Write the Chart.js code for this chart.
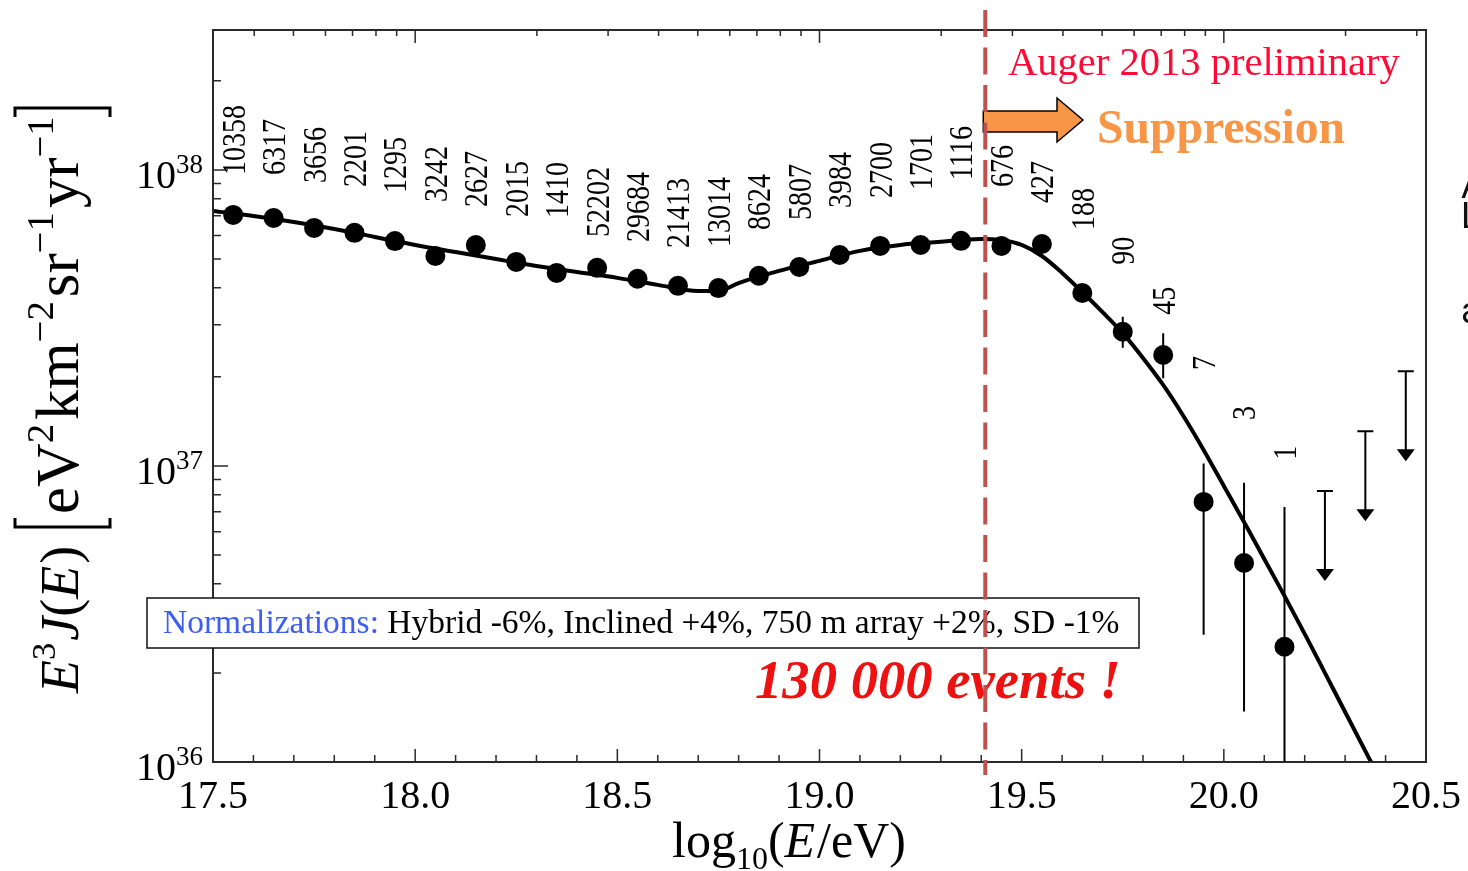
<!DOCTYPE html>
<html>
<head>
<meta charset="utf-8">
<script src="https://cdn.jsdelivr.net/npm/chart.js@4.4.1/dist/chart.umd.min.js"></script>
<style>
  html, body { margin: 0; background: #fff; }
  #wrap { width: 1468px; height: 871px; position: relative; }
</style>
</head>
<body>
<div id="wrap"><canvas id="spectrum"></canvas></div>
<script>
// Auger 2013 combined spectrum, E^3 J(E) vs log10(E/eV)

// measured points
const logE = [17.55, 17.65, 17.75, 17.85, 17.95, 18.05, 18.15, 18.25, 18.35, 18.45,
              18.55, 18.65, 18.75, 18.85, 18.95, 19.05, 19.15, 19.25, 19.35, 19.45,
              19.55, 19.65, 19.75, 19.85, 19.95, 20.05, 20.15];
const flux = [7.05e37, 6.88e37, 6.37e37, 6.13e37, 5.75e37, 5.12e37, 5.58e37, 4.89e37, 4.49e37, 4.67e37,
              4.29e37, 4.06e37, 3.99e37, 4.39e37, 4.70e37, 5.16e37, 5.54e37, 5.58e37, 5.76e37, 5.54e37,
              5.62e37, 3.84e37, 2.84e37, 2.37e37, 7.56e36, 4.70e36, 2.45e36];
const errHi = [null, null, null, null, null, null, null, null, null, null,
               null, null, null, null, null, null, null, null, null, null,
               null, null, 3.19e37, 2.81e37, 1.02e37, 8.77e36, 7.27e36];
const errLo = [null, null, null, null, null, null, null, null, null, null,
               null, null, null, null, null, null, null, null, null, null,
               null, null, 2.51e37, 1.98e37, 2.69e36, 1.48e36, 1.0e36];
const counts = ['10358', '6317', '3656', '2201', '1295', '3242', '2627', '2015', '1410', '52202',
                '29684', '21413', '13014', '8624', '5807', '3984', '2700', '1701', '1116', '676',
                '427', '188', '90', '45', '7', '3', '1'];
// where each event count sits (bottom end of the rotated number)
const countAnchor = [9.62e37, 9.62e37, 9.04e37, 8.76e37, 8.36e37, 7.79e37, 7.50e37, 6.94e37, 6.88e37, 5.94e37,
                     5.71e37, 5.45e37, 5.49e37, 6.27e37, 6.78e37, 7.44e37, 8.04e37, 8.56e37, 9.25e37, 8.76e37,
                     7.73e37, 6.27e37, 4.78e37, 3.24e37, 2.11e37, 1.43e37, 1.05e37];

// upper limits (84% CL)
const ulE = [20.25, 20.35, 20.45];
const ulFlux = [8.23e36, 1.31e37, 2.09e37];

// fitted broken power law with smooth suppression
const fitE = [17.5, 17.6, 17.7, 17.8, 17.9, 18.0, 18.1, 18.2, 18.3, 18.4, 18.5, 18.6, 18.7, 18.75,
              18.8, 18.9, 19.0, 19.1, 19.2, 19.3, 19.35, 19.4, 19.45, 19.5, 19.55, 19.6, 19.65, 19.7,
              19.75, 19.8, 19.85, 19.9, 19.95, 20.0, 20.05, 20.1, 20.15, 20.2, 20.25, 20.3, 20.364];
const fitFlux = [7.27e37, 6.99e37, 6.67e37, 6.32e37, 5.94e37, 5.58e37, 5.28e37, 5.00e37, 4.74e37, 4.52e37,
                 4.32e37, 4.09e37, 3.90e37, 3.90e37, 4.15e37, 4.56e37, 4.93e37, 5.33e37, 5.58e37, 5.72e37,
                 5.80e37, 5.85e37, 5.80e37, 5.58e37, 5.12e37, 4.49e37, 3.87e37, 3.31e37,
                 2.81e37, 2.317e37, 1.878e37, 1.475e37, 1.133e37, 8.56e36, 6.47e36, 4.85e36, 3.64e36,
                 2.71e36, 2.00e36, 1.475e36, 1.0e36];

// axes
const xTicks = [17.5, 18.0, 18.5, 19.0, 19.5, 20.0, 20.5];
const xTickLabels = ['17.5', '18.0', '18.5', '19.0', '19.5', '20.0', '20.5'];
const yTicks = [1e36, 1e37, 1e38];
const yTickExp = ['36', '37', '38'];
const topEeV = [0.4, 0.5, 0.6, 0.7, 0.8, 0.9, 1, 2, 3, 4, 5, 6, 7, 8, 9,
                10, 20, 30, 40, 50, 60, 70, 80, 90, 100, 200, 300];
const suppressionStart = 19.41;

const SERIF = '"Liberation Serif", "Times New Roman", serif';
const font = (size, it, b) => `${it ? 'italic ' : ''}${b ? 'bold ' : ''}${size}px ${SERIF}`;

function drawRuns(ctx, runs, x, y, size) {
  runs.forEach(r => {
    const s = (r.sup || r.sub) ? size * 0.64 : size;
    ctx.font = font(s, r.it, r.b);
    ctx.fillStyle = r.color || '#000';
    const dy = r.sup ? -size * 0.42 : (r.sub ? size * 0.24 : 0);
    x += r.pre || 0;
    ctx.fillText(r.t, x, y + dy);
    x += ctx.measureText(r.t).width + (r.gap || 0);
  });
  return x;
}

function runsWidth(ctx, runs, size) {
  let w = 0;
  runs.forEach(r => {
    const s = (r.sup || r.sub) ? size * 0.64 : size;
    ctx.font = font(s, r.it, r.b);
    w += (r.pre || 0) + ctx.measureText(r.t).width + (r.gap || 0);
  });
  return w;
}

// scale a run list so it spans the given width
function fitSize(ctx, runs, width) {
  return 100 * width / runsWidth(ctx, runs, 100);
}

const decorations = {
  id: 'decorations',
  afterDatasetsDraw(chart) {
    const ctx = chart.ctx;
    const a = chart.chartArea;
    const xs = chart.scales.x, ys = chart.scales.y;
    const X = v => xs.getPixelForValue(v);
    const Y = v => ys.getPixelForValue(v);
    ctx.save();

    // frame
    ctx.strokeStyle = '#2a2a2a';
    ctx.lineWidth = 2;
    ctx.strokeRect(a.left, a.top, a.right - a.left, a.bottom - a.top);

    // bottom ticks every 0.1, long every 0.5
    ctx.lineWidth = 1.5;
    ctx.beginPath();
    for (let k = 175; k <= 205; k++) {
      const px = X(k / 10);
      const len = k % 5 === 0 ? 13 : 7;
      ctx.moveTo(px, a.bottom);
      ctx.lineTo(px, a.bottom - len);
    }
    // top ticks: energy in EeV
    topEeV.forEach(e => {
      const px = X(18 + Math.log10(e));
      const len = [1, 10, 100].includes(e) ? 13 : 6;
      ctx.moveTo(px, a.top);
      ctx.lineTo(px, a.top + len);
    });
    // left ticks: decades and 2..9
    [36, 37, 38].forEach(d => {
      for (let m = 1; m <= 9; m++) {
        const v = m * Math.pow(10, d);
        if (v > ys.max) break;
        const py = Y(v);
        ctx.moveTo(a.left, py);
        ctx.lineTo(a.left + (m === 1 ? 15 : 8), py);
      }
    });
    ctx.stroke();

    // tick labels
    ctx.fillStyle = '#000';
    ctx.textBaseline = 'alphabetic';
    ctx.textAlign = 'center';
    ctx.font = font(40);
    xTicks.forEach((v, i) => ctx.fillText(xTickLabels[i], X(v), 808));
    ctx.textAlign = 'left';
    yTicks.forEach((v, i) => {
      const py = Y(v);
      ctx.font = font(40);
      const w10 = ctx.measureText('10').width;
      ctx.font = font(27);
      const wE = ctx.measureText(yTickExp[i]).width;
      const x0 = 203 - w10 - wE;
      ctx.font = font(40);
      ctx.fillText('10', x0, py + 18);
      ctx.font = font(27);
      ctx.fillText(yTickExp[i], x0 + w10, py + 3);
    });

    // x title
    drawRuns(ctx, [
      { t: 'log' }, { t: '10', sub: true }, { t: '(' }, { t: 'E', it: true, gap: 2 }, { t: '/eV)' }
    ], 672, 857, 50);

    // y title, rotated
    ctx.save();
    ctx.translate(78, 693);
    ctx.rotate(-Math.PI / 2);
    drawRuns(ctx, [
      { t: 'E', it: true }, { t: '3', sup: true, gap: 2 }, { t: 'J', it: true }, { t: '(' },
      { t: 'E', it: true, gap: 2 }, { t: ')' }
    ], 0, 0, 54);
    const inner = [
      { t: 'eV' }, { t: '2', sup: true, gap: 4 }, { t: 'km' }, { t: '\u22122', sup: true, gap: 4 },
      { t: 'sr' }, { t: '\u22121', sup: true, gap: 4 }, { t: 'yr' }, { t: '\u22121', sup: true }
    ];
    const bL = 166, bR = 585;
    const innerSize = fitSize(ctx, inner, bR - bL - 26);
    drawRuns(ctx, inner, bL + 13, 0, innerSize);
    ctx.lineWidth = 3;
    ctx.strokeStyle = '#000';
    ctx.beginPath();
    ctx.moveTo(bL + 9, -63); ctx.lineTo(bL, -63); ctx.lineTo(bL, 32); ctx.lineTo(bL + 9, 32);
    ctx.moveTo(bR - 9, -63); ctx.lineTo(bR, -63); ctx.lineTo(bR, 32); ctx.lineTo(bR - 9, 32);
    ctx.stroke();
    ctx.restore();

    // error bars
    ctx.strokeStyle = '#000';
    ctx.lineWidth = 2;
    ctx.beginPath();
    logE.forEach((e, i) => {
      if (errHi[i] == null) return;
      ctx.moveTo(X(e), Y(errHi[i]));
      ctx.lineTo(X(e), Y(errLo[i]));
    });
    ctx.stroke();

    // upper limits
    ulE.forEach((e, i) => {
      const px = X(e), top = Y(ulFlux[i]), tip = top + 90;
      ctx.beginPath();
      ctx.moveTo(px - 8, top); ctx.lineTo(px + 8, top);
      ctx.moveTo(px, top); ctx.lineTo(px, tip - 8);
      ctx.stroke();
      ctx.beginPath();
      ctx.moveTo(px - 9, tip - 12); ctx.lineTo(px + 9, tip - 12); ctx.lineTo(px, tip);
      ctx.closePath();
      ctx.fillStyle = '#000';
      ctx.fill();
    });

    // event counts (slightly tall glyphs, like the original)
    ctx.font = font(28);
    ctx.fillStyle = '#000';
    ctx.textAlign = 'left';
    counts.forEach((c, i) => {
      ctx.save();
      ctx.translate(X(logE[i]) + 2, Y(countAnchor[i]));
      ctx.rotate(-Math.PI / 2);
      ctx.scale(1, 1.18);
      ctx.fillText(c, 0, 8);
      ctx.restore();
    });

    // normalization box
    ctx.fillStyle = '#fff';
    ctx.fillRect(147, 598, 992, 50);
    ctx.strokeStyle = '#111';
    ctx.lineWidth = 1.5;
    ctx.strokeRect(147, 598, 992, 50);
    const norm = [
      { t: 'Normalizations: ', color: '#3d5ef5' },
      { t: 'Hybrid -6%, Inclined +4%, 750 m array +2%, SD -1%' }
    ];
    drawRuns(ctx, norm, 163, 633, fitSize(ctx, norm, 957));

    // event total
    const total = [{ t: '130 000 events !', it: true, b: true, color: '#ee1111' }];
    drawRuns(ctx, total, 755, 698, fitSize(ctx, total, 366));

    // Auger label
    const auger = [{ t: 'Auger 2013 preliminary', color: '#ff0a36' }];
    drawRuns(ctx, auger, 1008, 75, fitSize(ctx, auger, 392));

    // suppression arrow + label
    const x0 = X(suppressionStart) - 2;
    ctx.beginPath();
    ctx.moveTo(x0, 111); ctx.lineTo(1057, 111); ctx.lineTo(1057, 98); ctx.lineTo(1083, 120);
    ctx.lineTo(1057, 142); ctx.lineTo(1057, 132); ctx.lineTo(x0, 132);
    ctx.closePath();
    ctx.fillStyle = '#f79646';
    ctx.fill();
    ctx.strokeStyle = '#000';
    ctx.lineWidth = 1.5;
    ctx.stroke();
    const sup = [{ t: 'Suppression', b: true, color: '#f79646' }];
    drawRuns(ctx, sup, 1097, 143, fitSize(ctx, sup, 248));

    // clipped slide text at the right edge
    ctx.fillStyle = '#111';
    ctx.font = '36px Roboto, sans-serif';
    ctx.fillText('A', 1461, 198);
    ctx.fillText('L', 1461, 228);
    ctx.fillText('a', 1461, 323);

    // dashed suppression line
    ctx.strokeStyle = '#c0504d';
    ctx.lineWidth = 4;
    ctx.setLineDash([27, 10.5]);
    ctx.beginPath();
    ctx.moveTo(X(suppressionStart), 10);
    ctx.lineTo(X(suppressionStart), 775);
    ctx.stroke();
    ctx.setLineDash([]);

    ctx.restore();
  }
};

new Chart(document.getElementById('spectrum'), {
  type: 'line',
  data: {
    datasets: [
      {
        label: 'fit',
        data: fitE.map((e, i) => ({ x: e, y: fitFlux[i] })),
        borderColor: '#000',
        borderWidth: 4,
        pointRadius: 0,
        cubicInterpolationMode: 'monotone',
        fill: false
      },
      {
        label: 'data',
        data: logE.map((e, i) => ({ x: e, y: flux[i] })),
        showLine: false,
        pointRadius: 10,
        pointBorderWidth: 0,
        pointBackgroundColor: '#000',
        borderColor: '#000'
      }
    ]
  },
  options: {
    responsive: true,
    maintainAspectRatio: false,
    animation: false,
    layout: { padding: { left: 213, right: 42, top: 30, bottom: 109 } },
    plugins: { legend: { display: false }, tooltip: { enabled: false } },
    scales: {
      x: { type: 'linear', min: 17.5, max: 20.5, display: false },
      y: { type: 'logarithmic', min: 1e36, max: 2.97e38, display: false }
    }
  },
  plugins: [decorations]
});
</script>
</body>
</html>
